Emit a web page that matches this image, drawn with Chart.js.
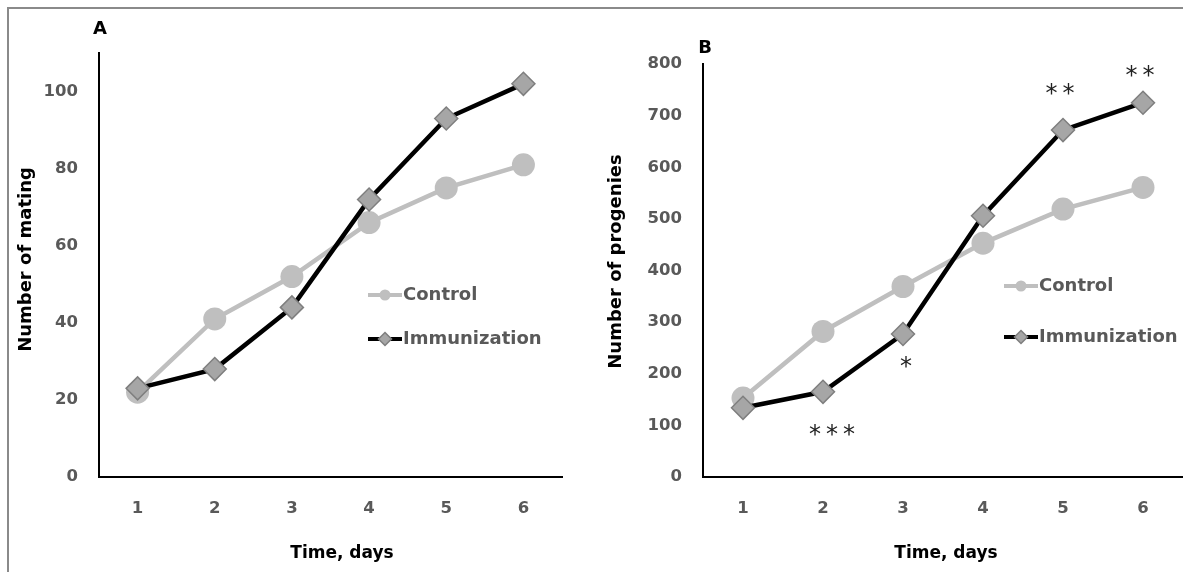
<!DOCTYPE html>
<html>
<head>
<meta charset="utf-8">
<title>Mating and progenies over time</title>
<script src="https://cdn.jsdelivr.net/npm/chart.js@4.4.1/dist/chart.umd.min.js"></script>
<style>
  html, body { margin: 0; padding: 0; background: #fff; }
  body { width: 1183px; height: 572px; position: relative; overflow: hidden; }
  .frame {
    position: absolute; left: 7px; top: 7px; width: 1200px; height: 600px;
    border-left: 2px solid #8a8a8a; border-top: 2px solid #8a8a8a;
  }
  .panel { position: absolute; top: 0; height: 572px; }
  #panelA { left: 0; width: 590px; }
  #panelB { left: 590px; width: 593px; }
</style>
</head>
<body>
<div class="frame"></div>
<div class="panel" id="panelA"><canvas id="chartA" width="590" height="572"></canvas></div>
<div class="panel" id="panelB"><canvas id="chartB" width="593" height="572"></canvas></div>
<script>
// data
const days = ['1', '2', '3', '4', '5', '6'];

const matingControl = [22, 41, 52, 66, 75, 81];
const matingImmunization = [23, 28, 44, 72, 93, 102];
const matingTicks = [0, 20, 40, 60, 80, 100];

const progenyControl = [153, 282, 369, 453, 519, 561];
const progenyImmunization = [134, 165, 277, 506, 672, 725];
const progenyTicks = [0, 100, 200, 300, 400, 500, 600, 700, 800];

// significance marks for panel B and the level (in axis units) they sit at
const progenySignif = ['', '***', '*', '', '**', '**'];
const progenySignifLevel = [null, 93, 225, null, 753, 788];

const seriesNames = ['Control', 'Immunization'];

// styles
const CONTROL_GREY = '#bfbfbf';
const DIAMOND_FILL = '#a6a6a6';
const DIAMOND_EDGE = '#7f7f7f';
const TICK_GREY = '#595959';
const FONT = '"DejaVu Sans", sans-serif';

// extra drawing: panel letter, axis titles, legend, asterisks
const decor = {
  id: 'decor',
  afterDraw(chart, args, o) {
    const ctx = chart.ctx;
    ctx.save();

    // panel letter
    ctx.fillStyle = '#000';
    ctx.font = 'bold 18px ' + FONT;
    ctx.textAlign = 'center';
    ctx.textBaseline = 'alphabetic';
    ctx.fillText(o.letter, o.letterX, o.letterY);

    // x title
    ctx.font = 'bold 17px ' + FONT;
    ctx.fillText('Time, days', o.xTitleX, 558);

    // y title
    ctx.save();
    ctx.translate(31.4, o.yTitleY);
    ctx.rotate(-Math.PI / 2);
    ctx.font = 'bold 18px ' + FONT;
    ctx.fillText(o.yTitle, 0, 0);
    ctx.restore();

    // legend
    const ds = chart.data.datasets;
    o.legendY.forEach((ly, i) => {
      const d = ds[i];
      const cx = o.legendX + 17;
      ctx.strokeStyle = d.borderColor;
      ctx.lineWidth = 4;
      ctx.beginPath();
      ctx.moveTo(o.legendX, ly);
      ctx.lineTo(o.legendX + 34, ly);
      ctx.stroke();
      ctx.fillStyle = d.pointBackgroundColor;
      ctx.strokeStyle = d.pointBorderColor || d.pointBackgroundColor;
      ctx.lineWidth = d.pointBorderWidth || 0;
      ctx.beginPath();
      if (d.pointStyle === 'circle') {
        ctx.arc(cx, ly, 5.5, 0, Math.PI * 2);
        ctx.fill();
      } else {
        const r = 6.5;
        ctx.moveTo(cx, ly - r); ctx.lineTo(cx + r, ly);
        ctx.lineTo(cx, ly + r); ctx.lineTo(cx - r, ly);
        ctx.closePath(); ctx.fill(); ctx.stroke();
      }
      ctx.fillStyle = TICK_GREY;
      ctx.font = 'bold 18px ' + FONT;
      ctx.textAlign = 'left';
      ctx.textBaseline = 'middle';
      ctx.fillText(d.label, o.legendX + 35, ly);
    });

    // significance asterisks
    if (o.signif) {
      const xs = chart.scales.x, ys = chart.scales.y;
      ctx.fillStyle = '#222';
      ctx.font = '24px ' + FONT;
      ctx.textAlign = 'center';
      ctx.textBaseline = 'alphabetic';
      o.signif.forEach((mark, i) => {
        if (!mark) return;
        const cx = xs.getPixelForValue(i) + o.signifShift[i];
        const cy = ys.getPixelForValue(o.signifLevel[i]);
        const n = mark.length;
        for (let k = 0; k < n; k++) {
          ctx.fillText('*', cx + (k - (n - 1) / 2) * 17, cy + 13);
        }
      });
    }
    ctx.restore();
  }
};

function makeChart(id, cfg) {
  return new Chart(document.getElementById(id), {
    type: 'line',
    data: {
      labels: days,
      datasets: [
        {
          label: seriesNames[0],
          data: cfg.control,
          borderColor: CONTROL_GREY,
          backgroundColor: CONTROL_GREY,
          borderWidth: 4.5,
          pointStyle: 'circle',
          pointRadius: 11.5,
          pointBorderWidth: 0,
          pointBackgroundColor: CONTROL_GREY,
          order: 1
        },
        {
          label: seriesNames[1],
          data: cfg.immunization,
          borderColor: '#000',
          backgroundColor: '#000',
          borderWidth: 4.5,
          pointStyle: 'rectRot',
          pointRadius: 11.5,
          pointBackgroundColor: DIAMOND_FILL,
          pointBorderColor: DIAMOND_EDGE,
          pointBorderWidth: 1.5,
          order: 0
        }
      ]
    },
    options: {
      responsive: false,
      animation: false,
      events: [],
      layout: {
        autoPadding: false,
        padding: { left: 0, right: cfg.padRight, top: cfg.padTop, bottom: 0 }
      },
      plugins: {
        legend: { display: false },
        tooltip: { enabled: false },
        decor: cfg.decor
      },
      scales: {
        x: {
          type: 'category',
          offset: true,
          grid: { display: false, drawTicks: false },
          border: { display: true, color: '#000', width: 2 },
          ticks: {
            color: TICK_GREY,
            font: { family: FONT, size: 16.5, weight: 'bold' },
            padding: 22,
            maxRotation: 0
          },
          afterFit: s => { s.height = 95; s.paddingLeft = 0; s.paddingRight = 0; }
        },
        y: {
          min: 0,
          max: cfg.max,
          grid: { display: false, drawTicks: false },
          border: { display: true, color: '#000', width: 2 },
          ticks: {
            color: TICK_GREY,
            font: { family: FONT, size: 16.5, weight: 'bold' },
            padding: 21
          },
          afterBuildTicks: s => { s.ticks = cfg.ticks.map(v => ({ value: v })); },
          afterFit: s => { s.width = cfg.yWidth; }
        }
      }
    },
    plugins: [decor]
  });
}

makeChart('chartA', {
  control: matingControl,
  immunization: matingImmunization,
  ticks: matingTicks,
  max: 110,
  padTop: 53,
  padRight: 28,
  yWidth: 99,
  decor: {
    letter: 'A', letterX: 100, letterY: 34,
    xTitleX: 342, yTitle: 'Number of mating', yTitleY: 259.5,
    legendX: 368, legendY: [295, 339]
  }
});

makeChart('chartB', {
  control: progenyControl,
  immunization: progenyImmunization,
  ticks: progenyTicks,
  max: 800,
  padTop: 64,
  padRight: 0,
  yWidth: 113,
  decor: {
    letter: 'B', letterX: 115, letterY: 53,
    xTitleX: 356, yTitle: 'Number of progenies', yTitleY: 261.5,
    legendX: 414, legendY: [286, 337],
    signif: progenySignif, signifLevel: progenySignifLevel,
    signifShift: [0, 9, 3, 0, -3, -3]
  }
});
</script>
</body>
</html>
